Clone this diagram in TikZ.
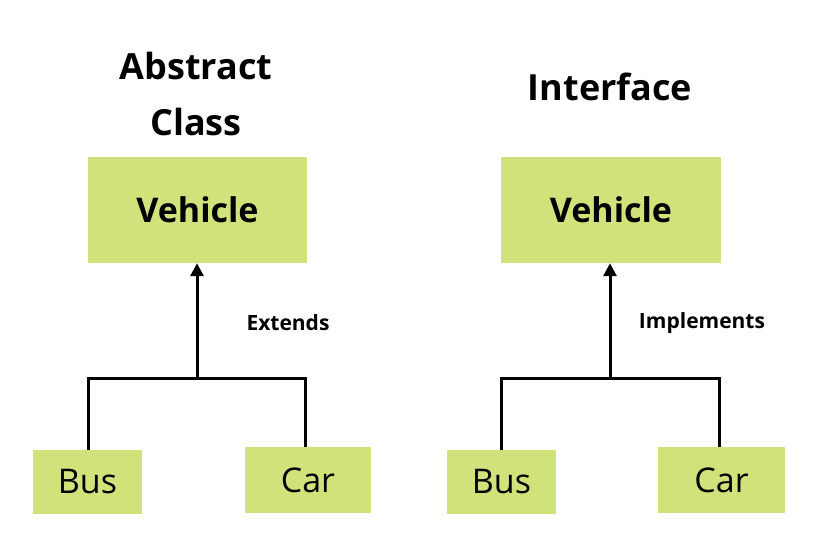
\documentclass[tikz,border=0pt]{standalone}
\usepackage{fontspec}
\setmainfont{Open Sans}
\usetikzlibrary{arrows.meta}
\definecolor{boxgreen}{RGB}{208,226,122}
\begin{document}
\begin{tikzpicture}[
    x=1pt, y=-1pt,
    >={Triangle[length=13pt,width=13pt]},
    box/.style={
        fill=boxgreen,
        inner sep=0pt,
        font=\fontsize{34}{40}\selectfont
    },
    title/.style={
        align=center,
        font=\bfseries\fontsize{36}{56}\selectfont
    },
    lbl/.style={
        font=\bfseries\fontsize{21}{24}\selectfont
    },
    arr/.style={
        ->,
        line width=3pt
    },
    link/.style={
        line width=3pt
    }
]
    \useasboundingbox (0,0) rectangle (818,554);

    % abstract class side
    \node[title] (abstitle) at (196,94) {Abstract\\Class};
    \node[box, minimum width=219pt, minimum height=106pt, font=\bfseries\fontsize{34}{40}\selectfont]
        (absveh) at (197.5,210) {Vehicle};
    \node[box, minimum width=109pt, minimum height=64pt] (absbus) at (87.5,482) {Bus};
    \node[box, minimum width=126pt, minimum height=66pt] (abscar) at (308,480) {Car};
    \coordinate (absjoin) at (197,378);
    \node[lbl] (extends) at (288,323) {Extends};

    \draw[link] (absbus.north -| 88,0) |- (absjoin) -| (abscar.north -| 305,0);
    \draw[arr] (absjoin) -- (absveh.south -| absjoin);

    % interface side
    \node[title] (inttitle) at (610,87) {Interface};
    \node[box, minimum width=220pt, minimum height=106pt, font=\bfseries\fontsize{34}{40}\selectfont]
        (intveh) at (611,210) {Vehicle};
    \node[box, minimum width=109pt, minimum height=64pt] (intbus) at (501.5,482) {Bus};
    \node[box, minimum width=127pt, minimum height=66pt] (intcar) at (721.5,480) {Car};
    \coordinate (intjoin) at (610,378);
    \node[lbl] (implements) at (702,323) {Implements};

    \draw[link] (intbus.north -| 501,0) |- (intjoin) -| (intcar.north -| 719,0);
    \draw[arr] (intjoin) -- (intveh.south -| intjoin);

\end{tikzpicture}
\end{document}
